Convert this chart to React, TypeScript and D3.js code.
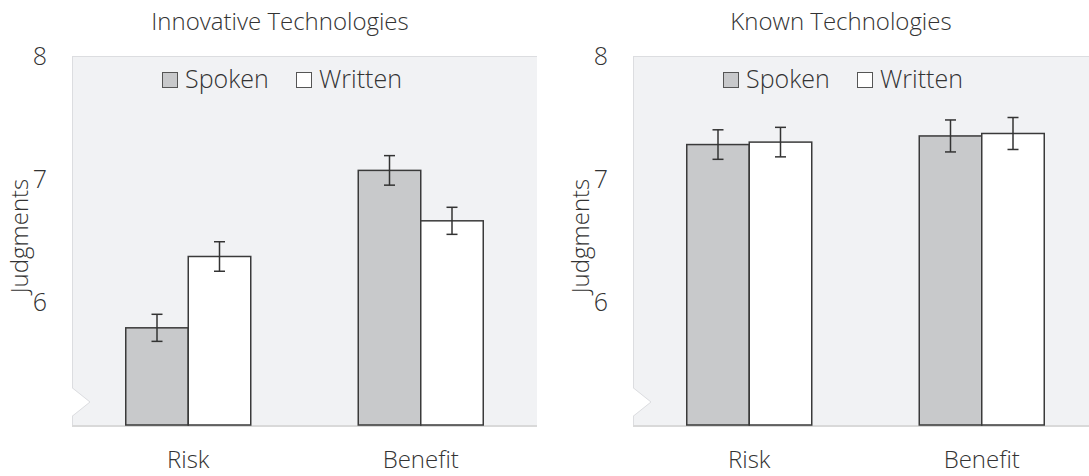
import React from "react";
import * as d3 from "d3";

const categories = ["Risk", "Benefit"];
const seriesNames = ["Spoken", "Written"];
const yTicks = [6, 7, 8];

const innovSpoken = [5.79, 7.07];
const innovWritten = [6.37, 6.66];
const innovSpokenErr = [0.11, 0.12];
const innovWrittenErr = [0.12, 0.11];

const knownSpoken = [7.28, 7.35];
const knownWritten = [7.3, 7.37];
const knownSpokenErr = [0.12, 0.13];
const knownWrittenErr = [0.12, 0.13];

const FONT = "'Open Sans', 'Noto Sans', sans-serif";
const fills = ["#c8c9cb", "#ffffff"];

const W = 465;
const top = 56;
const bottom = 425;

function Panel({ x0, title, values, errs }: { x0: number; title: string; values: number[][]; errs: number[][] }) {
  const y = d3.scaleLinear().domain([5, 8]).range([bottom, top]);
  const xb = d3.scaleBand<string>().domain(categories).range([0, W]);
  const bw = xb.bandwidth();
  const xs = d3.scaleBand<string>().domain(seriesNames).range([bw / 2 - 62.5, bw / 2 + 62.5]);
  const notchTop = 388;
  const notchMid = 402;
  const notchBot = 416;
  return (
    <g transform={`translate(${x0},0)`}>
      <rect x={0} y={top} width={W} height={bottom - top} fill="#f1f2f4" />
      <line x1={0} x2={W} y1={top + 0.5} y2={top + 0.5} stroke="#dcdde0" strokeWidth={1} />
      <line x1={0.5} x2={0.5} y1={top} y2={bottom} stroke="#dcdde0" strokeWidth={1} />
      <path d={`M0,${notchTop} L18,${notchMid} L0,${notchBot} Z`} fill="#ffffff" />
      <path d={`M0.5,${notchTop} L18,${notchMid} L0.5,${notchBot}`} fill="none" stroke="#dcdde0" strokeWidth={1} />
      <line x1={0} x2={W} y1={bottom + 1} y2={bottom + 1} stroke="#d9d9d9" strokeWidth={2} />
      <text x={208} y={30} textAnchor="middle" fontFamily={FONT} fontWeight={300} fontSize={24} fill="#333">{title}</text>
      {yTicks.map((t) => (
        <text key={t} x={-25} y={y(t)} dy="0.35em" textAnchor="end" fontFamily={FONT} fontWeight={300} fontSize={25} fill="#333">{t}</text>
      ))}
      <text transform={`translate(-52,${236}) rotate(-90)`} textAnchor="middle" dy="0.35em" fontFamily={FONT} fontWeight={300} fontSize={24} fill="#333">Judgments</text>
      {categories.map((c, i) => (
        <g key={c}>
          {seriesNames.map((s, j) => {
            const v = values[j][i];
            const e = errs[j][i];
            const bx = (xb(c) ?? 0) + (xs(s) ?? 0);
            const w = xs.bandwidth();
            const cx = bx + w / 2;
            return (
              <g key={s}>
                <rect x={bx} y={y(v)} width={w} height={bottom - y(v)} fill={fills[j]} stroke="#3a3a3a" strokeWidth={1.5} />
                <line x1={cx} x2={cx} y1={y(v + e)} y2={y(v - e)} stroke="#333" strokeWidth={1.5} />
                <line x1={cx - 5.5} x2={cx + 5.5} y1={y(v + e)} y2={y(v + e)} stroke="#333" strokeWidth={1.5} />
                <line x1={cx - 5.5} x2={cx + 5.5} y1={y(v - e)} y2={y(v - e)} stroke="#333" strokeWidth={1.5} />
              </g>
            );
          })}
          <text x={(xb(c) ?? 0) + bw / 2} y={468} textAnchor="middle" fontFamily={FONT} fontWeight={300} fontSize={24} fill="#333">{c}</text>
        </g>
      ))}
      <g>
        <rect x={90.5} y={72.5} width={15} height={15} fill={fills[0]} stroke="#555" strokeWidth={1} />
        <text x={113} y={88} fontFamily={FONT} fontWeight={300} fontSize={25} fill="#333">{seriesNames[0]}</text>
        <rect x={224.5} y={72.5} width={15} height={15} fill={fills[1]} stroke="#555" strokeWidth={1} />
        <text x={247} y={88} fontFamily={FONT} fontWeight={300} fontSize={25} fill="#333">{seriesNames[1]}</text>
      </g>
    </g>
  );
}

export default function App() {
  return (
    <svg width={1089} height={476} style={{ position: "absolute", left: 0, top: 0, background: "#fff" }}>
      <Panel x0={72} title="Innovative Technologies" values={[innovSpoken, innovWritten]} errs={[innovSpokenErr, innovWrittenErr]} />
      <Panel x0={633} title="Known Technologies" values={[knownSpoken, knownWritten]} errs={[knownSpokenErr, knownWrittenErr]} />
    </svg>
  );
}
